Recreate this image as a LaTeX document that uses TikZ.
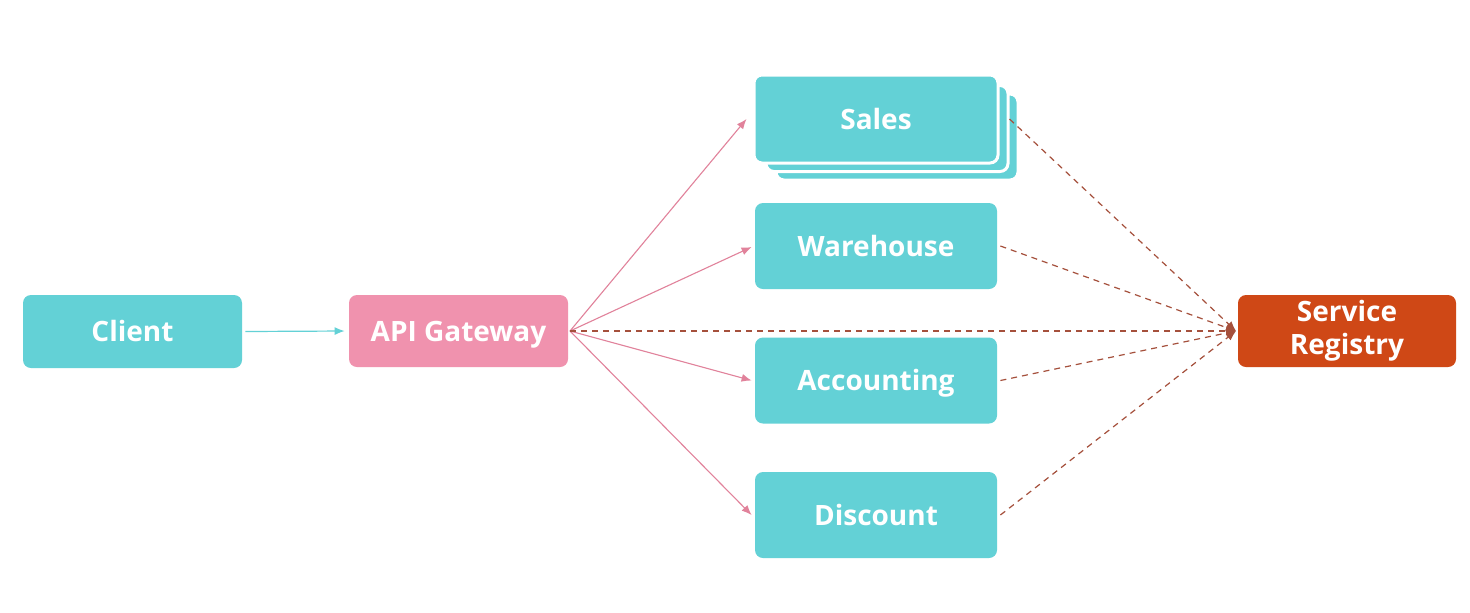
\documentclass[tikz,border=0pt]{standalone}
\usepackage{fontspec}
\setmainfont{Open Sans}
\usetikzlibrary{arrows.meta}
\definecolor{teal1}{RGB}{99,209,214}
\definecolor{pink1}{RGB}{240,146,174}
\definecolor{reg}{RGB}{207,72,22}
\definecolor{dashc}{RGB}{165,80,60}
\definecolor{pinkline}{RGB}{225,130,155}
\begin{document}
\begin{tikzpicture}[x=0.5pt,y=-0.5pt,
  box/.style={rectangle, rounded corners=4pt, fill=#1, draw=none, text=white,
    font=\bfseries\fontsize{14}{15}\selectfont, align=center, inner sep=0pt},
  oneline/.style={text height=10pt, text depth=0pt},
  svc/.style={box=teal1, oneline, minimum width=121pt, minimum height=43pt},
  stackbox/.style={rectangle, rounded corners=4pt, fill=teal1, draw=white, line width=1.5pt, minimum width=121pt, minimum height=43pt},
  call/.style={draw=pinkline, line width=0.55pt, -{Latex[length=5pt,width=4pt]}},
  reg/.style={draw=dashc, line width=0.6pt, dash pattern=on 3pt off 2.5pt, -{Latex[length=5pt,width=4pt]}}
]
\useasboundingbox (0,0) rectangle (1470,612);
\fill[white] (0,0) rectangle (1470,612);

\node[box=teal1, oneline, minimum width=109.5pt, minimum height=36.5pt] (client) at (132.5,331.5) {Client};
\node[box=pink1, oneline, minimum width=109.5pt, minimum height=36pt] (api) at (458.5,331) {API Gateway};

\node[stackbox] (s3) at (897,137) {};
\node[stackbox] (s2) at (887,128.5) {};
\node[box=teal1, oneline, draw=white, line width=1.5pt, minimum width=122pt, minimum height=44pt] (sales) at (876,119) {Sales};
\node[svc] (ware) at (876,246) {Warehouse};
\node[svc] (acct) at (876,380.5) {Accounting};
\node[svc] (disc) at (876,515) {Discount};

\node[box=reg, minimum width=109pt, minimum height=36pt, font=\bfseries\fontsize{14}{16.5}\selectfont] (sr) at (1347,331) {Service\\Registry};

\coordinate (apiR) at (570,331);
\coordinate (srL) at (1236,331);

\draw[draw=teal1, line width=0.6pt, -{Latex[length=5pt,width=4pt]}] (client.east) ++(3,0) -- ([xshift=-2]api.west);

\draw[call] (apiR) -- ([xshift=-3pt]sales.west);
\draw[call] (apiR) -- ([xshift=-1.5pt,yshift=-0.5pt]ware.west);
\draw[call] (apiR) -- ([xshift=-1.5pt]acct.west);
\draw[call] (apiR) -- ([xshift=-1.5pt]disc.west);

\draw[reg] (apiR) -- (srL);
\draw[reg] ([xshift=5pt]sales.east) -- (srL);
\draw[reg] ([xshift=1.5pt]ware.east) -- (srL);
\draw[reg] ([xshift=1.5pt]acct.east) -- (srL);
\draw[reg] ([xshift=1.5pt]disc.east) -- (srL);
\end{tikzpicture}
\end{document}
